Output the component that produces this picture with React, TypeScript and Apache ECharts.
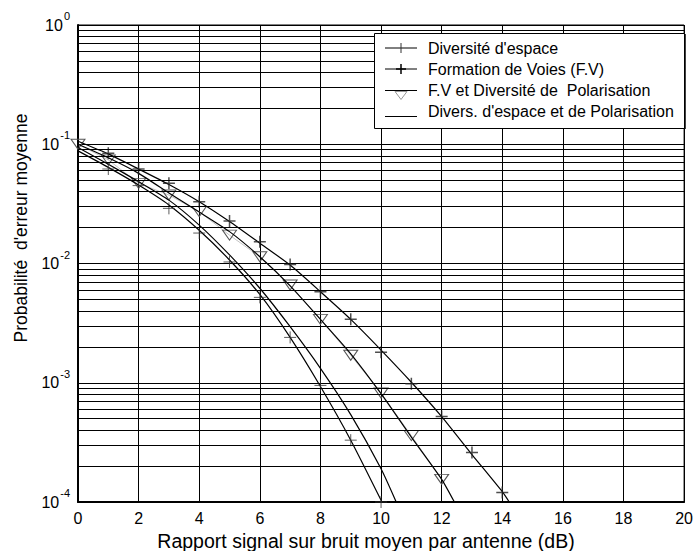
import React, { useEffect, useRef } from "react";
import * as echarts from "echarts";

const FONT = "'Liberation Sans', Arial, Helvetica, sans-serif";

// Axis ticks
const xTickInterval = 2;
const yDecades = [1e-4, 1e-3, 1e-2, 1e-1];
const minorMultipliers = [2, 3, 4, 5, 6, 7, 8, 9];

// Labels
const xAxisTitle = "Rapport signal sur bruit moyen par antenne (dB)";
const yAxisTitle = "Probabilité  d'erreur moyenne";
const legendNames = [
  "Diversité d'espace",
  "Formation de Voies (F.V)",
  "F.V et Diversité de  Polarisation",
  "Divers. d'espace et de Polarisation",
];

// Theoretical curves (lines)
const divEspaceCurveX = [0, 1, 2, 3, 4, 5, 6, 7, 8, 9, 10.03];
const divEspaceCurveY = [0.088, 0.064, 0.0455, 0.031, 0.019, 0.0107, 0.0055, 0.0024, 0.00093, 0.00033, 0.0001];

const formationCurveX = [0, 1, 2, 3, 4, 5, 6, 7, 8, 9, 10, 11, 12, 13, 14, 14.23];
const formationCurveY = [0.106, 0.083, 0.062, 0.046, 0.033, 0.0225, 0.0148, 0.0097, 0.0058, 0.0034, 0.00188, 0.00101, 0.00052, 0.00025, 0.000122, 0.0001];

const fvPolCurveX = [0, 1, 2, 3, 4, 5, 6, 7, 8, 9, 10, 11, 12, 12.42];
const fvPolCurveY = [0.1, 0.077, 0.057, 0.039, 0.027, 0.0185, 0.0114, 0.0065, 0.0034, 0.00175, 0.00081, 0.00035, 0.000155, 0.0001];

const divPolCurveX = [0, 1, 2, 3, 4, 5, 6, 7, 8, 9, 10, 10.5];
const divPolCurveY = [0.094, 0.068, 0.0486, 0.034, 0.021, 0.0118, 0.0062, 0.00295, 0.00132, 0.00054, 0.00019, 0.0001];

// Simulated points (markers)
const divEspaceSimX = [1, 2, 3, 4, 5, 6, 7, 8, 9, 10];
const divEspaceSimY = [0.062, 0.045, 0.029, 0.018, 0.0103, 0.0052, 0.0024, 0.00095, 0.00033, 0.0001];

const formationSimX = [1, 2, 3, 4, 5, 6, 7, 8, 9, 10, 11, 12, 13, 14];
const formationSimY = [0.084, 0.062, 0.047, 0.033, 0.0227, 0.0152, 0.0098, 0.0058, 0.0034, 0.0018, 0.00098, 0.00052, 0.00026, 0.00012];

const fvPolSimX = [0, 1, 2, 3, 4, 5, 6, 7, 8, 9, 10, 11, 12];
const fvPolSimY = [0.1, 0.074, 0.047, 0.0375, 0.0272, 0.0173, 0.0114, 0.0066, 0.0034, 0.0017, 0.00082, 0.00036, 0.000155];

const zip = (xs: number[], ys: number[]) => xs.map((x, i) => [x, ys[i]]);

export default function App() {
  const ref = useRef<HTMLDivElement>(null);

  useEffect(() => {
    const chart = echarts.init(ref.current!, null, { renderer: "svg" });
    const minorGrid = yDecades.flatMap((d) => minorMultipliers.map((m) => Number((d * m).toPrecision(3))));
    const plusSym = "path://M5,0L5,10M0,5L10,5";
    const triSym = "path://M0,0L10,0L5,8Z";

    const curveStyle = { color: "#000", width: 1.2 };
    const lineSeries = (name: string, xs: number[], ys: number[], extra: any = {}) => ({
      name,
      type: "line",
      data: zip(xs, ys),
      showSymbol: false,
      symbol: "none",
      smooth: 0.2,
      lineStyle: curveStyle,
      silent: true,
      z: 3,
      ...extra,
    });

    // Legend drawn with graphic elements
    const lx0 = 385;
    const lx1 = 417;
    const lxm = 401;
    const rows = [48, 69, 90.5, 111.5];
    const legendEls: any[] = [
      {
        type: "rect",
        z: 100,
        shape: { x: 374.5, y: 33.5, width: 310, height: 95 },
        style: { fill: "#fff", stroke: "#000", lineWidth: 1 },
      },
      {
        type: "line",
        z: 101,
        shape: { x1: 685, y1: 34, x2: 685, y2: 129 },
        style: { stroke: "#000", lineWidth: 1.5 },
      },
    ];
    rows.forEach((y, i) => {
      const ly = i === 3 ? y + 5 : y;
      legendEls.push({
        type: "line",
        z: 101,
        shape: { x1: lx0, y1: ly, x2: lx1, y2: ly },
        style: { stroke: "#000", lineWidth: 1 },
      });
      legendEls.push({
        type: "text",
        z: 101,
        x: 428,
        y,
        style: {
          text: legendNames[i],
          font: `16px ${FONT}`,
          fill: "#000",
          align: "left",
          verticalAlign: "middle",
          textAlign: "left",
          textVerticalAlign: "middle",
        },
      });
    });
    // legend markers
    legendEls.push(
      { type: "line", z: 102, shape: { x1: lxm, y1: rows[0] - 5, x2: lxm, y2: rows[0] + 5 }, style: { stroke: "#333", lineWidth: 1 } },
      { type: "line", z: 102, shape: { x1: lxm, y1: rows[1] - 5, x2: lxm, y2: rows[1] + 5 }, style: { stroke: "#000", lineWidth: 1.5 } },
      { type: "line", z: 102, shape: { x1: lxm - 5, y1: rows[1], x2: lxm + 5, y2: rows[1] }, style: { stroke: "#000", lineWidth: 1.5 } },
      {
        type: "polygon",
        z: 102,
        shape: { points: [[lxm - 6, rows[2] + 1], [lxm + 6, rows[2] + 1], [lxm, rows[2] + 9]] },
        style: { fill: "none", stroke: "#999", lineWidth: 1 },
      }
    );
    // axis titles
    legendEls.push(
      {
        type: "text",
        z: 50,
        x: 21,
        y: 228,
        rotation: Math.PI / 2,
        style: {
          text: yAxisTitle,
          font: `17.5px ${FONT}`,
          fill: "#000",
          align: "center",
          verticalAlign: "middle",
          textAlign: "center",
          textVerticalAlign: "middle",
        },
      },
      {
        type: "text",
        z: 50,
        x: 366,
        y: 541,
        style: {
          text: xAxisTitle,
          font: `19.5px ${FONT}`,
          fill: "#000",
          align: "center",
          verticalAlign: "middle",
          textAlign: "center",
          textVerticalAlign: "middle",
        },
      }
    );

    const option: any = {
      animation: false,
      backgroundColor: "#fff",
      grid: {
        left: 78,
        top: 25,
        right: 11,
        bottom: 49,
        show: true,
        borderColor: "#000",
        borderWidth: 1,
        backgroundColor: "transparent",
      },
      xAxis: {
        type: "value",
        min: 0,
        max: 20,
        interval: xTickInterval,
        axisLine: { show: true, onZero: false, lineStyle: { color: "#000", width: 2 } },
        axisTick: { show: false },
        axisLabel: { color: "#000", fontSize: 16, fontFamily: FONT, margin: 8 },
        splitLine: { show: true, lineStyle: { color: "#000", width: 1 } },
      },
      yAxis: {
        type: "log",
        logBase: 10,
        min: 1e-4,
        max: 1,
        splitNumber: 4,
        axisLine: { show: true, onZero: false, lineStyle: { color: "#000", width: 2 } },
        axisTick: { show: false },
        axisLabel: {
          margin: 8,
          formatter: (v: number) => `{b|10}{e|${Math.round(Math.log10(v))}}`,
          rich: {
            b: { fontSize: 16, fontFamily: FONT, color: "#000" },
            e: { fontSize: 11, fontFamily: FONT, color: "#000", padding: [0, 0, 18, 1] },
          },
        },
        splitLine: { show: true, lineStyle: { color: "#000", width: 1 } },
      },
      graphic: { elements: legendEls },
      series: [
        lineSeries(legendNames[0], divEspaceCurveX, divEspaceCurveY),
        lineSeries(legendNames[1], formationCurveX, formationCurveY),
        lineSeries(legendNames[2], fvPolCurveX, fvPolCurveY),
        lineSeries(legendNames[3], divPolCurveX, divPolCurveY, {
          markLine: {
            silent: true,
            precision: 10,
            symbol: ["none", "none"],
            label: { show: false },
            lineStyle: { color: "#000", width: 1, type: "solid" },
            data: minorGrid.map((v) => ({ yAxis: v })),
            animation: false,
          },
        }),
        {
          name: legendNames[0] + " (sim)",
          type: "scatter",
          data: zip(divEspaceSimX, divEspaceSimY),
          symbol: plusSym,
          symbolSize: 12,
          itemStyle: { color: "rgba(0,0,0,0)", borderColor: "#333", borderWidth: 1 },
          silent: true,
          z: 4,
        },
        {
          name: legendNames[1] + " (sim)",
          type: "scatter",
          data: zip(formationSimX, formationSimY),
          symbol: plusSym,
          symbolSize: 12,
          itemStyle: { color: "rgba(0,0,0,0)", borderColor: "#222", borderWidth: 1.5 },
          silent: true,
          z: 4,
        },
        {
          name: legendNames[2] + " (sim)",
          type: "line",
          data: zip(fvPolSimX, fvPolSimY),
          symbol: triSym,
          symbolSize: [14, 10],
          showSymbol: true,
          showAllSymbol: true,
          itemStyle: { color: "rgba(0,0,0,0)", borderColor: "#555", borderWidth: 1 },
          lineStyle: { color: "#c4c4c4", width: 1 },
          silent: true,
          z: 2,
        },
      ],
    };
    chart.setOption(option);
    return () => chart.dispose();
  }, []);

  return (
    <div
      ref={ref}
      style={{ position: "fixed", left: 0, top: 0, width: 696, height: 551, background: "#fff" }}
    />
  );
}
